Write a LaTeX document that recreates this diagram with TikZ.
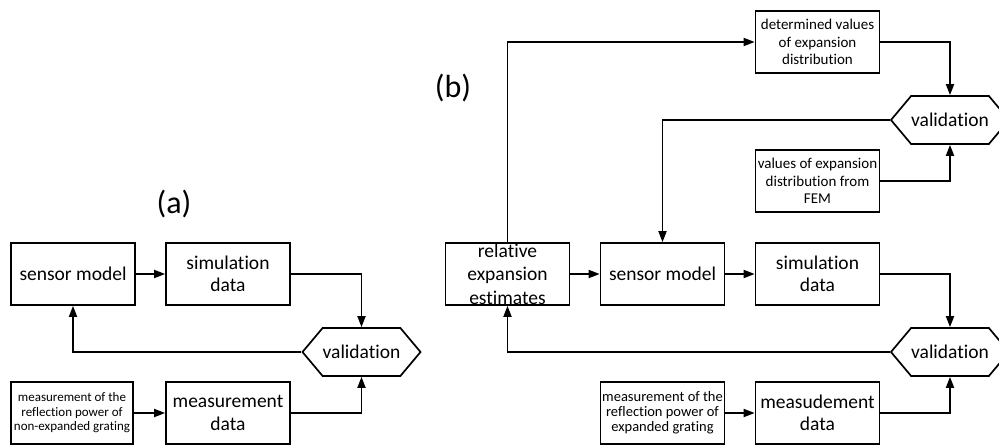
\documentclass[tikz,border=0pt]{standalone}
\usepackage{fontspec}
\setmainfont{Carlito}[Ligatures=NoCommon]
\usetikzlibrary{arrows.meta,shapes.symbols}

\newcommand{\bigtxt}{\fontsize{19.5}{22.5}\selectfont}
\newcommand{\smalltxt}{\fontsize{13}{14.5}\selectfont}
\newcommand{\midtxt}{\fontsize{15}{17.5}\selectfont}
\newcommand{\meastxt}{\fontsize{14.5}{15.2}\selectfont}

\begin{document}
\begin{tikzpicture}[x=1pt, y=-1pt, node distance=155pt,
    -{Triangle[length=11pt,width=8pt]}, line width=1.8pt,
    box node/.style={draw, -, line width=1.7pt, minimum width=124pt, minimum height=62pt, inner sep=0pt, align=center},
    hex node/.style={signal, signal to=west and east, signal pointer angle=100, draw, -, line width=1.7pt,
        minimum width=110pt, minimum height=48pt, inner sep=0pt, font=\bigtxt}]
        \tikzstyle{every node}=[font=\bigtxt]
        \useasboundingbox (0,0) rectangle (999,447);
        \clip (0,0) rectangle (999,447);

          % (a)
          \node (la) at (174,204) {\fontsize{32}{36}\selectfont (a)};
          \node[box node] (sm1) at (73,274) {sensor model};
          \node[box node] (sim1) [right of=sm1] {simulation\\data};
          \node[box node] (md1) [below of=sim1, node distance=139pt] {measurement\\data};
          \node[box node, font=\smalltxt, minimum width=122pt] (ms1) [left of=md1, node distance=156pt] {measurement of the\\reflection power of\\non-expanded grating};
          \node[hex node] (v1) at (361.5,352) {validation};

          \path (sm1) edge (sim1)
                (ms1) edge (md1);
          \draw (sim1.east) -| (v1.north);
          \draw (md1.east) -| (v1.south);
          \draw (v1.west) -| (sm1.south);

          % (b)
          \node (lb) at (453,88) {\fontsize{32}{36}\selectfont (b)};
          \node[box node, inner ysep=-6pt, font=\fontsize{19.5}{23.5}\selectfont] (rel) at (507.5,274) {relative\\expansion\\estimates};
          \node[box node] (sm2) [right of=rel] {sensor model};
          \node[box node] (sim2) [right of=sm2] {simulation\\data};
          \node[box node] (md2) [below of=sim2, node distance=139pt] {measudement\\data};
          \node[box node, font=\meastxt] (ms2) [left of=md2] {measurement of the\\reflection power of\\expanded grating};
          \node[box node, font=\midtxt] (fem) [above of=sim2, node distance=93pt] {values of expansion\\distribution from\\FEM};
          \node[box node, font=\midtxt] (det) [above of=fem, node distance=139pt] {determined values\\of expansion\\distribution};
          \node[hex node] (v2) at (950,352) {validation};
          \node[hex node] (v3) at (950,120) {validation};

          \path (rel) edge (sm2)
                (sm2) edge (sim2)
                (ms2) edge (md2);
          \draw (sim2.east) -| (v2.north);
          \draw (md2.east) -| (v2.south);
          \draw (v2.west) -| (rel.south);
          \draw (rel.north) |- (det.west);
          \draw (det.east) -| (v3.north);
          \draw (fem.east) -| (v3.south);
          \draw (v3.west) -| (sm2.north);

        \end{tikzpicture}
\end{document}
